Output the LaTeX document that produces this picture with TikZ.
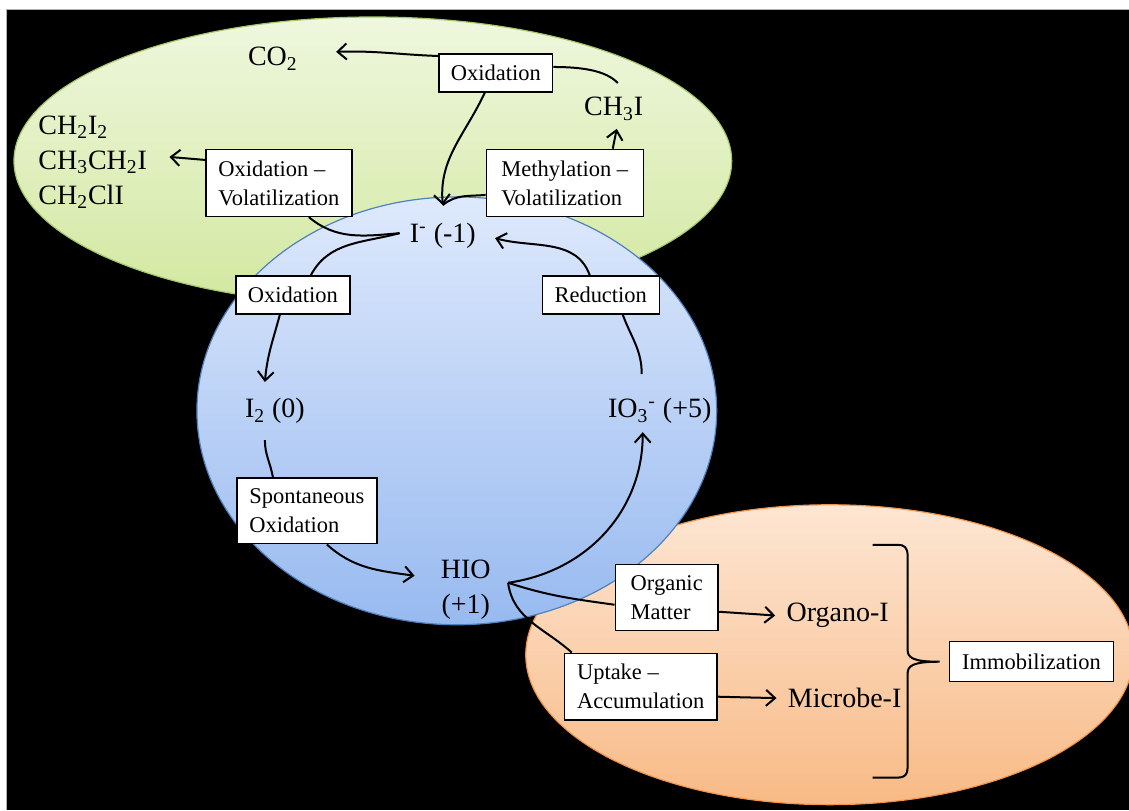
\documentclass[tikz,border=0pt]{standalone}
\usepackage{fontspec}
\setmainfont{Liberation Serif}
\usetikzlibrary{arrows.meta}
\definecolor{gtop}{HTML}{EFF7DE}
\definecolor{gbot}{HTML}{D2E8A0}
\definecolor{gedge}{HTML}{A6C76A}
\definecolor{btop}{HTML}{DEE9FC}
\definecolor{bbot}{HTML}{98BAF0}
\definecolor{bedge}{HTML}{4F81BD}
\definecolor{otop}{HTML}{FDE6D3}
\definecolor{obot}{HTML}{F8BA86}
\definecolor{oedge}{HTML}{F2944A}
\begin{document}
\begin{tikzpicture}[x=0.5pt,y=-0.5pt,
  box/.style={draw=black, fill=white, line width=0.7pt, align=left,
    font=\fontsize{11.25}{14.5}\selectfont, inner sep=0pt},
  big/.style={font=\fontsize{14}{17.5}\selectfont, inner sep=0pt},
  conn/.style={line width=1pt, draw=black},
  arr/.style={conn, -{Straight Barb[length=4.5pt,width=8pt]}},
]
% background
\fill[white] (0,0) rectangle (1129,810);
\fill[black] (7,9) rectangle (1129,810);
\draw[gray!60, line width=0.5pt] (7,810) -- (7,9) -- (1129,9);
\useasboundingbox (0,0) rectangle (1129,810);

% regions
\path[draw=gedge, line width=0.6pt, top color=gtop, bottom color=gbot]
  (373,161) ellipse [x radius=359, y radius=144];
\path[draw=oedge, line width=0.6pt, top color=otop, bottom color=obot]
  (830,655) ellipse [x radius=304, y radius=150];
\path[draw=bedge, line width=0.6pt, top color=btop, bottom color=bbot]
  (457,411) ellipse [x radius=260, y radius=214];

% species
\node[big, anchor=base] (co2) at (273,66) {CO\textsubscript{2}};
\node[big, anchor=base] (ch3i) at (614,116) {CH\textsubscript{3}I};
\node[big, anchor=west, align=left] (org) at (38,162)
  {CH\textsubscript{2}I\textsubscript{2}\\CH\textsubscript{3}CH\textsubscript{2}I\\CH\textsubscript{2}ClI};
\node[big, anchor=base] (im1) at (443,243) {I\textsuperscript{-} (-1)};
\node[big, anchor=base] (i2) at (275,418) {I\textsubscript{2} (0)};
\node[big, anchor=base] (io3) at (660,418) {IO\textsubscript{3}\textsuperscript{-} (+5)};
\node[big, align=center] (hio) at (466,590) {HIO\\(+1)};
\node[big, anchor=base] (organo) at (838,622) {Organo-I};
\node[big, anchor=base] (microbe) at (845,708) {Microbe-I};

% process boxes
\node[box, minimum width=57pt, minimum height=19pt] (oxtop) at (496,73) {Oxidation};
\node[box, minimum width=73pt, minimum height=33.5pt] (oxvol) at (279,183) {Oxidation --\\Volatilization};
\node[box, minimum width=78.5pt, minimum height=33.5pt] (meth) at (565,183) {Methylation --\\Volatilization};
\node[box, minimum width=57pt, minimum height=19pt] (oxc) at (293,295) {Oxidation};
\node[box, minimum width=58.5pt, minimum height=19pt] (red) at (601,295) {Reduction};
\node[box, minimum width=70pt, minimum height=33pt] (spont) at (307,511) {Spontaneous\\Oxidation};
\node[box, minimum width=51.5pt, minimum height=33pt] (orgm) at (667,598) {Organic\\Matter};
\node[box, minimum width=76.5pt, minimum height=33.5pt] (upt) at (641,687) {Uptake --\\Accumulation};
\node[box, minimum width=82pt, minimum height=20pt] (immo) at (1032,662) {Immobilization};

% junction points
\coordinate (iw) at ([xshift=-5pt,yshift=1.5pt]im1.west);
\coordinate (it) at ([yshift=9pt]im1.north);
\coordinate (hj) at ([xshift=8.5pt,yshift=3.5pt]hio.east);

% top region
\draw[conn] ([xshift=2pt,yshift=7pt]ch3i.north) .. controls (606,70) and (580,67) .. ([yshift=3pt]oxtop.east);
\draw[arr] ([yshift=8.5pt]oxtop.west) to[out=178,in=2] ([xshift=19pt,yshift=3.5pt]co2.east);
\draw[arr] ([xshift=-5.5pt]oxtop.south) to[out=-115,in=95] (it);
\draw[conn] (it) to[out=40,in=185] ([yshift=-6pt]meth.west);
\draw[arr] ([xshift=24pt]meth.north) -- ([xshift=1.5pt,yshift=-4pt]ch3i.south);
\draw[conn] (iw) to[out=185,in=-40] ([xshift=15pt]oxvol.south);
\draw[arr] ([yshift=11.5pt]oxvol.west) -- ([xshift=11pt,yshift=2.5pt]org.east);

% cycle
\draw[conn] (iw) to[out=195,in=62] ([xshift=9pt]oxc.north);
\draw[arr] ([xshift=-6.5pt]oxc.south) to[out=-105,in=85] ([xshift=-5pt,yshift=8pt]i2.north);
\draw[conn] ([xshift=-5pt,yshift=-8pt]i2.south) to[out=-90,in=100] ([xshift=-17pt]spont.north);
\draw[arr] ([xshift=10pt]spont.south) to[out=-42,in=172] ([xshift=-13pt,yshift=7pt]hio.west);
\draw[arr] (hj) to[out=8,in=-90] ([xshift=-8.5pt,yshift=-4pt]io3.south);
\draw[conn] ([xshift=-9pt,yshift=12pt]io3.north) to[out=90,in=-70] ([xshift=11pt]red.south);
\draw[arr] ([xshift=-5.5pt]red.north) to[out=110,in=-15] ([xshift=9.5pt,yshift=-1pt]im1.east);

% immobilization
\draw[conn] (hj) to[out=-18,in=172] ([yshift=-3.5pt]orgm.west);
\draw[conn] (hj) to[out=-82,in=138] ([xshift=-34.5pt]upt.north);
\draw[arr] ([yshift=-7pt]orgm.east) -- ([xshift=-5.5pt]organo.west);
\draw[arr] ([yshift=-5pt]upt.east) -- ([xshift=-5.5pt]microbe.west);

% brace
\draw[conn] (873,545) -- (898,545) .. controls (905,545) and (908,548) .. (908,556)
  -- (908,650) .. controls (908,658) and (913,662) .. (940,662)
  .. controls (913,662) and (908,666) .. (908,674)
  -- (908,768) .. controls (908,775) and (905,778) .. (898,778) -- (873,778);
\end{tikzpicture}
\end{document}
